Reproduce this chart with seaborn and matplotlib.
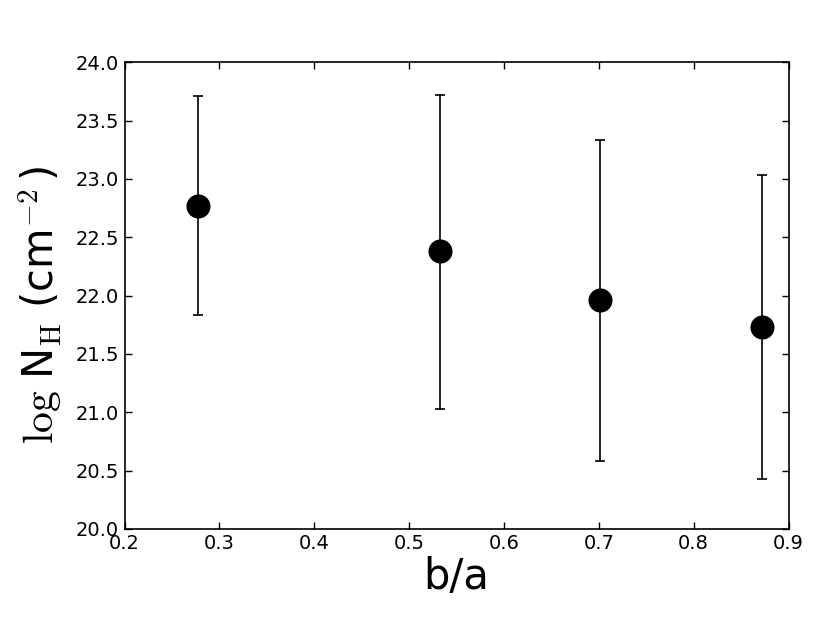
import matplotlib
matplotlib.use("Agg")
import matplotlib.pyplot as plt
import seaborn as sns
import pandas as pd

# values
ratio_ba = [0.278, 0.533, 0.701, 0.872]
log_nh = [22.77, 22.38, 21.96, 21.73]
nh_upper = [23.71, 23.72, 23.33, 23.03]
nh_lower = [21.83, 21.03, 20.58, 20.43]

x_ticks = [0.2, 0.3, 0.4, 0.5, 0.6, 0.7, 0.8, 0.9]
y_ticks = [20.0, 20.5, 21.0, 21.5, 22.0, 22.5, 23.0, 23.5, 24.0]

sns.set_style("ticks", {"xtick.direction": "in", "ytick.direction": "in"})
plt.rcParams["font.family"] = ["DejaVu Sans"]
plt.rcParams["mathtext.fontset"] = "cm"

df = pd.DataFrame({"ba": ratio_ba, "nh": log_nh, "hi": nh_upper, "lo": nh_lower})

fig, ax = plt.subplots(figsize=(8.3, 6.23), dpi=100)
fig.subplots_adjust(left=0.15, right=0.95, bottom=0.151, top=0.9)

# asymmetric error bars
yerr = [df["nh"] - df["lo"], df["hi"] - df["nh"]]
ax.errorbar(df["ba"], df["nh"], yerr=yerr, fmt="none", ecolor="black",
            elinewidth=1.2, capsize=3.5, capthick=1.2, zorder=2)
sns.scatterplot(data=df, x="ba", y="nh", ax=ax, s=300, color="black",
                edgecolor="black", linewidth=0, zorder=3, legend=False)

ax.set_xlim(0.2, 0.9)
ax.set_ylim(20.0, 24.0)
ax.set_xticks(x_ticks)
ax.set_yticks(y_ticks)
ax.set_xticklabels([f"{t:.1f}" for t in x_ticks])
ax.set_yticklabels([f"{t:.1f}" for t in y_ticks])
ax.tick_params(which="both", direction="in", top=True, right=True,
               length=5, width=1, labelsize=14, colors="black", pad=4)
for spine in ax.spines.values():
    spine.set_linewidth(1.2)
    spine.set_color("black")

ax.set_xlabel("b/a", fontsize=30, labelpad=2, color="black")
ax.set_ylabel(r"$\log\,$N$_{\rm H}$ (cm$^{-2}\,$)", fontsize=30,
              color="black")
ax.yaxis.set_label_coords(-0.09, 0.48)

plt.savefig("out.png", dpi=100)
plt.close()
